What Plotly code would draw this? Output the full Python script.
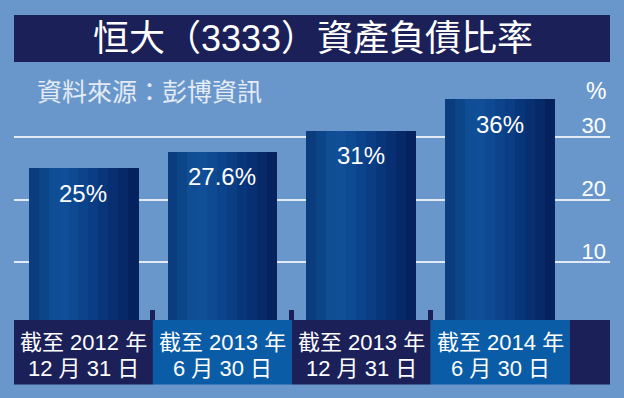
import plotly.graph_objects as go

# ---- data ----
categories_line1 = ["截至 2012 年", "截至 2013 年", "截至 2013 年", "截至 2014 年"]
categories_line2 = ["12 月 31 日", "6 月 30 日", "12 月 31 日", "6 月 30 日"]
values = [25, 27.6, 31, 36]
value_labels = ["25%", "27.6%", "31%", "36%"]
y_ticks = [10, 20, 30]
y_tick_labels = ["10", "20", "30"]
title_text = "恒大（3333）資產負債比率"
source_text = "資料來源：彭博資訊"

# ---- style ----
BG = "#6a97cb"
NAVY = "#1b2058"
CELL_BLUE = "#0a5ca7"
LATIN = "Liberation Sans, Arial, Noto Sans CJK TC, sans-serif"
stripe_colors = ['#0b3c7e', '#0d4589', '#0f4d95', '#104f98', '#0e4a92', '#0c448b',
                 '#0a3d83', '#08367a', '#072f71', '#062968', '#05225f']
bar_width = 0.79
xs = list(range(len(values)))

fig = go.Figure()
n = len(stripe_colors)
sw = bar_width / n
for k, c in enumerate(stripe_colors):
    fig.add_trace(go.Bar(
        x=xs, y=values, width=[sw * 1.02] * len(xs), offset=-bar_width / 2 + k * sw,
        marker=dict(color=c, line=dict(width=0)), hoverinfo="skip", showlegend=False,
    ))

shapes = []
# title bar
shapes.append(dict(type="rect", xref="paper", yref="paper", x0=0, x1=1,
                   y0=(320 - 62) / 230, y1=(320 - 15) / 230,
                   fillcolor=NAVY, line=dict(width=0), layer="above"))
# category band
band_y0 = (320 - 384.5) / 230
for i in xs:
    shapes.append(dict(type="rect", xref="x", yref="paper", x0=i - 0.5, x1=i + 0.5,
                       y0=band_y0, y1=0,
                       fillcolor=NAVY if i % 2 == 0 else CELL_BLUE,
                       line=dict(width=0), layer="above"))
shapes.append(dict(type="rect", xref="x", yref="paper", x0=len(xs) - 0.5, x1=3.79,
                   y0=band_y0, y1=0, fillcolor=NAVY, line=dict(width=0), layer="above"))

annotations = []
annotations.append(dict(text=title_text, xref="paper", yref="paper", x=0.5, xshift=1,
                        y=(320 - 39) / 230, xanchor="center", yanchor="middle",
                        showarrow=False,
                        font=dict(family=LATIN, size=36, color="white")))
annotations.append(dict(text=source_text, xref="paper", yref="paper", x=(35 - 14) / 596,
                        y=(320 - 90) / 230, xanchor="left", yanchor="middle",
                        showarrow=False,
                        font=dict(family="Noto Sans CJK TC, sans-serif", size=25,
                                  color="#e3ebf5")))
annotations.append(dict(text="%", xref="paper", yref="paper", x=1.0, xshift=-2,
                        y=(320 - 91) / 230, xanchor="right", yanchor="middle",
                        showarrow=False, font=dict(family=LATIN, size=23, color="white")))
for i, (v, lab) in enumerate(zip(values, value_labels)):
    annotations.append(dict(text=lab, x=i, y=v, yshift=-25, xanchor="center",
                            yanchor="middle", showarrow=False,
                            font=dict(family=LATIN, size=24, color="white")))
for i in xs:
    annotations.append(dict(text=categories_line1[i], x=i, xref="x", yref="paper",
                            y=(320 - 342) / 230, xanchor="center", yanchor="middle",
                            showarrow=False, font=dict(family=LATIN, size=22, color="white")))
    annotations.append(dict(text=categories_line2[i], x=i, xref="x", yref="paper",
                            y=(320 - 368) / 230, xanchor="center", yanchor="middle",
                            showarrow=False, font=dict(family=LATIN, size=22, color="white")))

fig.update_layout(
    width=624, height=398,
    margin=dict(l=14, r=14, t=90, b=78, pad=0),
    paper_bgcolor=BG, plot_bgcolor=BG,
    barmode="overlay", bargap=0,
    shapes=shapes, annotations=annotations,
    xaxis=dict(range=[-0.5, 3.79], tickvals=[0.5, 1.5, 2.5], ticks="inside",
               ticklen=10, tickwidth=5, tickcolor=NAVY, showticklabels=False,
               showgrid=False, zeroline=False, showline=False, fixedrange=True),
    yaxis=dict(range=[0.8, 37.48], tickvals=y_ticks, ticktext=y_tick_labels,
               side="right", ticklabelposition="inside top", ticks="",
               ticklabelshift=4, ticklabelstandoff=1,
               showgrid=True, gridcolor="#e2eaf5", gridwidth=2, zeroline=False,
               showline=False, tickfont=dict(family=LATIN, size=22, color="white"),
               fixedrange=True),
)

fig.write_html(
    "out.html",
    config={"displayModeBar": False},
    post_script="document.body.style.margin='0';document.body.style.overflow='hidden';",
)
